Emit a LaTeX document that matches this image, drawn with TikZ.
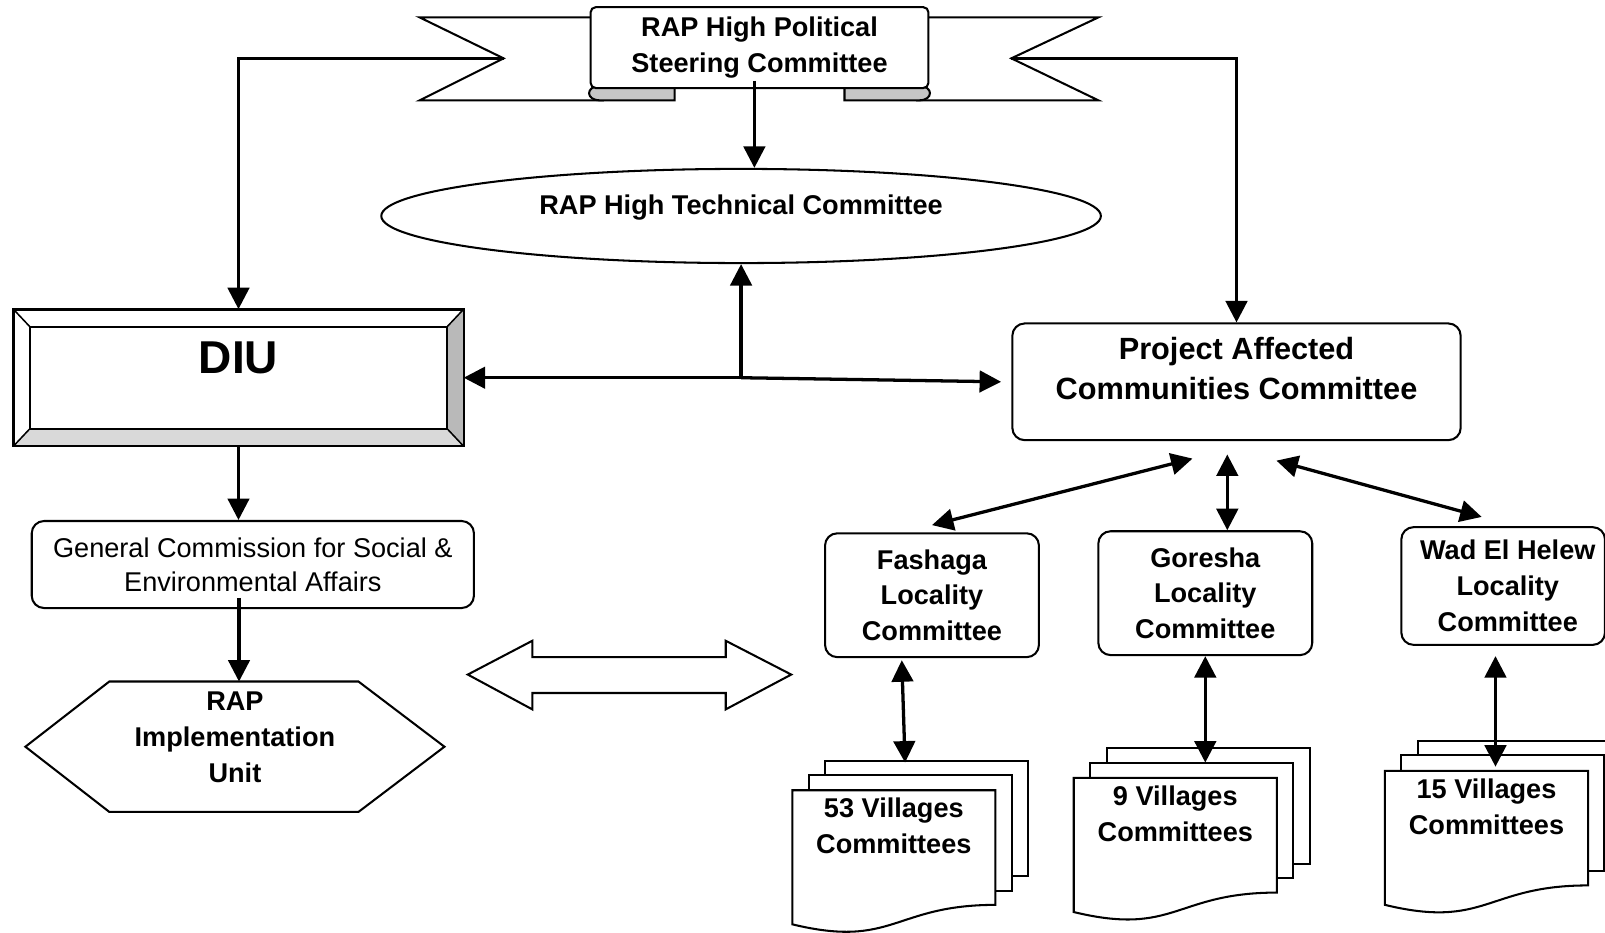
\documentclass[tikz,border=0pt]{standalone}
\usepackage{fontspec}
\setmainfont{Liberation Sans}
\usetikzlibrary{arrows.meta,shapes.geometric,calc}

\tikzset{
  shp/.style={draw=black, line width=2pt, fill=white},
  rbox/.style={shp, rounded corners=12pt},
  lbl/.style={font=\bfseries\fontsize{26.5}{35}\selectfont, align=center},
  tip/.tip={Triangle[length=21pt,width=21pt]},
  arr/.style={line width=3.2pt, -tip},
  dbl/.style={line width=3.2pt, tip-tip},
}

% a stack of three documents behind the named front page node
\newcommand\docstack[1]{%
  \draw[shp] ($(#1.north west)+(32,-29)$) rectangle ($(#1.north east)+(32,84)$);
  \draw[shp] ($(#1.north west)+(16,-15)$) rectangle ($(#1.north east)+(16,98)$);
  \draw[shp] (#1.north west) -- (#1.north east) -- ($(#1.north east)+(0,112)$)
    .. controls ($(#1.north west)+(99,112)$) and ($(#1.north west)+(99,155)$) .. ($(#1.north west)+(0,131)$) -- cycle;
}

\begin{document}
\begin{tikzpicture}[x=1pt,y=-1pt]
\fill[white] (0,0) rectangle (1568,911);
\clip (0,0) rectangle (1568,911);

% ---- steering committee banner ----
\draw[shp] (577,17) -- (410,17) -- (492,57) -- (410,98) -- (590,98);
\draw[shp] (907,17) -- (1073,17) -- (988,57) -- (1073,98) -- (895,98);
\coordinate (lnotch) at (492,57);
\coordinate (rnotch) at (988,57);
\draw[shp, fill=gray!45] (659,82) -- (659,98) -- (586,98) .. controls (572,98) and (572,84) .. (586,84) -- cycle;
\draw[shp, fill=gray!45] (825,82) -- (825,98) -- (898,98) .. controls (912,98) and (912,84) .. (898,84) -- cycle;
\node[shp, rounded corners=5pt, minimum width=330pt, minimum height=79pt, inner sep=0pt, lbl] (rib) at (742,46.5) {RAP High Political\\Steering Committee};

% ---- technical committee ----
\node[shp, ellipse, minimum width=703pt, minimum height=92pt, inner sep=0pt] (htc) at (724,211) {};
\node[lbl] (htct) at (724,203) {RAP High Technical Committee};

% ---- DIU bevelled box ----
\node[shp, minimum width=438pt, minimum height=132pt, inner sep=0pt] (diu) at (233,369) {};
\fill[gray!55] (diu.north east) -- (diu.south east) -- ($(diu.south east)+(-16,-17)$) -- ($(diu.north east)+(-16,17)$) -- cycle;
\fill[gray!30] (diu.south west) -- (diu.south east) -- ($(diu.south east)+(-16,-17)$) -- ($(diu.south west)+(16,-17)$) -- cycle;
\draw[line width=2pt] ($(diu.north west)+(16,17)$) rectangle ($(diu.south east)+(-16,-17)$);
\draw[line width=1.5pt] (diu.north west) -- +(16,17) (diu.north east) -- +(-16,17)
  (diu.south west) -- +(16,-17) (diu.south east) -- +(-16,-17);
\draw[line width=2pt] (diu.north west) rectangle (diu.south east);
\node[font=\bfseries\fontsize{45}{54}\selectfont] (diut) at (233,350) {DIU};

% ---- affected communities ----
\node[rbox, minimum width=438pt, minimum height=114pt] (pac) at (1208,373) {};
\node[lbl, font=\bfseries\fontsize{30}{39}\selectfont] (pact) at (1208,360) {Project Affected\\Communities Committee};

% ---- general commission ----
\node[rbox, minimum width=432pt, minimum height=85pt, align=center, font=\fontsize{26.5}{33}\selectfont] (gc) at (247,551.5) {General Commission for Social \&\\Environmental Affairs};

% ---- implementation unit (hexagon) ----
\node[minimum width=409pt, minimum height=127pt, inner sep=0pt] (iu) at (229.5,729.5) {};
\draw[shp] (iu.west) -- ($(iu.north west)+(82,0)$) -- ($(iu.north east)+(-84,0)$) -- (iu.east)
  -- ($(iu.south east)+(-84,0)$) -- ($(iu.south west)+(82,0)$) -- cycle;
\node[lbl] (iut) at (229.5,720) {RAP\\Implementation\\Unit};

% ---- two-way block arrow ----
\draw[shp] (457,659) -- (520,626) -- (520,642) -- (709,642) -- (709,626) -- (773,659)
  -- (709,693) -- (709,677) -- (520,677) -- (520,693) -- cycle;

% ---- locality committees ----
\node[rbox, lbl, minimum width=209pt, minimum height=121pt] (fas) at (910.5,581.5) {Fashaga\\Locality\\Committee};
\node[rbox, lbl, minimum width=209pt, minimum height=121pt] (gor) at (1177.5,579.5) {Goresha\\Locality\\Committee};
\node[rbox, minimum width=199pt, minimum height=115pt] (wad) at (1468.5,572.5) {};
\node[lbl] (wadt) at (1473,572.5) {Wad El Helew\\Locality\\Committee};

% ---- village committees ----
\node[minimum width=198pt, minimum height=140pt, inner sep=0pt, anchor=north west] (doc53) at (774,772) {};
\node[minimum width=198pt, minimum height=140pt, inner sep=0pt, anchor=north west] (doc9) at (1049,760) {};
\node[minimum width=198pt, minimum height=140pt, inner sep=0pt, anchor=north west] (doc15) at (1353,753) {};
\docstack{doc53}
\docstack{doc9}
\docstack{doc15}
\node[lbl] (t53) at ($(doc53.north)+(0,35)$) {53 Villages\\Committees};
\node[lbl] (t9) at ($(doc9.north)+(0,35)$) {9 Villages\\Committees};
\node[lbl] (t15) at ($(doc15.north)+(0,35)$) {15 Villages\\Committees};

% ---- connectors ----
\draw[arr] ($(rib.south)+(-5,-8)$) -- ($(rib.south |- htc.north)+(-5,0)$);
\draw[arr] (lnotch) -| (diu.north);
\draw[arr] (rnotch) -| (pac.north);
\coordinate (junc) at (htc.south |- diu.east);
\draw[arr] (junc) -- (diu.east);
\draw[arr] ($(junc)+(0,1.6)$) -- (htc.south);
\draw[arr] (junc) -- ($(pac.west)+(-10,0)$);
\draw[arr] (diu.south) -- (diu.south |- gc.north);
\draw[arr] ($(gc.south -| iu.north)+(4,-11)$) -- ($(iu.north)+(4,0)$);

\draw[dbl] ($(pac.south)+(-43,17)$) -- ($(fas.north)+(0,-7)$);
\draw[dbl] ($(pac.south)+(-9,13)$) -- ($(pac.south |- gor.north)+(-9,0)$);
\draw[dbl] ($(pac.south)+(39,19)$) -- ($(wad.north)+(-21,-9)$);
\draw[dbl] ($(fas.south)+(-29.5,2)$) -- ($(doc53.north)+(11,-27)$);
\draw[dbl] (gor.south) -- ($(gor.south |- doc9.north)+(0,-15)$);
\draw[dbl] ($(wad.south)+(-7.5,10)$) -- ($(wad.south |- doc15.north)+(-7.5,-4)$);
\end{tikzpicture}
\end{document}
